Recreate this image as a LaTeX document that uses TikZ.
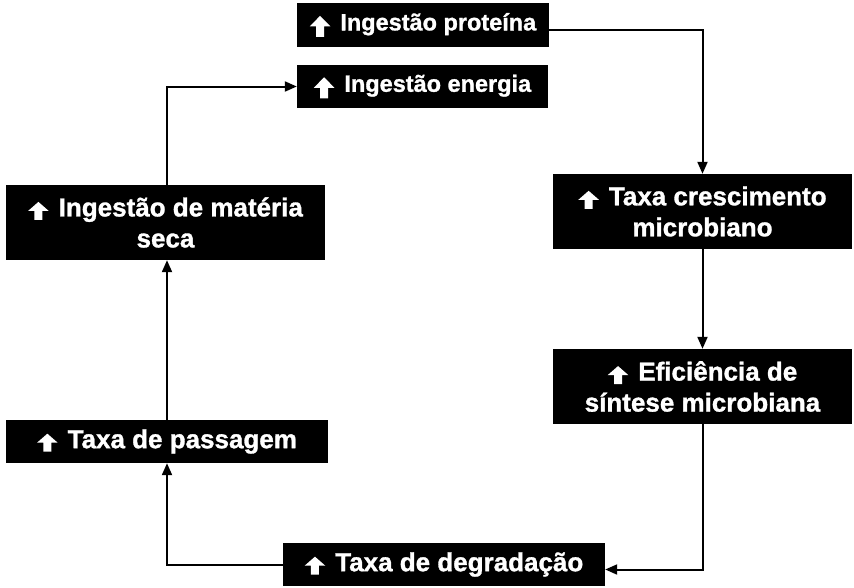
\documentclass[tikz,border=0pt]{standalone}
\usepackage{fontspec}
\setmainfont[BoldFeatures={FakeBold=1.2}]{Liberation Sans}
\usetikzlibrary{arrows.meta}
\newcommand{\uparw}[2]{\tikz[baseline=0pt,x=1pt,y=1pt]\fill[white] (-4,#1) -- (-4,#1+#2*0.5) -- (-10.3,#1+#2*0.5) -- (0,#1+#2) -- (10.3,#1+#2*0.5) -- (4,#1+#2*0.5) -- (4,#1) -- cycle;\hspace{10pt}}
\newcommand{\upar}{\uparw{-3.5}{18}}
\newcommand{\upbig}{\uparw{-6.5}{21}}
\tikzset{
  box/.style={fill=black, text=white, inner sep=0pt, align=center,
    font=\fontsize{26}{31}\selectfont\bfseries},
  smallbox/.style={box, font=\fontsize{23.5}{28}\selectfont\bfseries},
  arr/.style={draw=black, line width=2pt, -{Triangle[length=12pt,width=10pt]}}
}
\begin{document}
\begin{tikzpicture}[x=1pt,y=-1pt]
\useasboundingbox (0,0) rectangle (854,587);
\node[smallbox, minimum width=252pt, minimum height=44pt] (b1) at (423,25) {\upbig Ingestão proteína};
\node[smallbox, minimum width=251pt, minimum height=43pt] (b2) at (422.5,86.5) {\upbig Ingestão energia};
\node[box, minimum width=319pt, minimum height=75pt] (b3) at (165.5,222.5) {\upar Ingestão de matéria\\seca};
\node[box, minimum width=299pt, minimum height=75pt] (b4) at (702.5,211.5) {\upar Taxa crescimento\\microbiano};
\node[box, minimum width=299pt, minimum height=75pt] (b5) at (702.5,386.5) {\upar Eficiência de\\síntese microbiana};
\node[box, minimum width=322pt, minimum height=43pt] (b6) at (167,441.5) {\upar Taxa de passagem};
\node[box, minimum width=322pt, minimum height=43pt] (b7) at (444,564.5) {\upar Taxa de degradação};
\draw[arr] ([yshift=-5pt]b1.east) -| (b4.north);
\draw[arr] (b4.south) -- (b5.north);
\draw[arr] (b5.south) |- ([yshift=-5pt]b7.east);
\draw[arr] (b7.west) -| (b6.south);
\draw[arr] (b6.north) -- (b6.north |- b3.south);
\draw[arr] (b6.north |- b3.north) |- (b2.west);
\end{tikzpicture}
\end{document}
